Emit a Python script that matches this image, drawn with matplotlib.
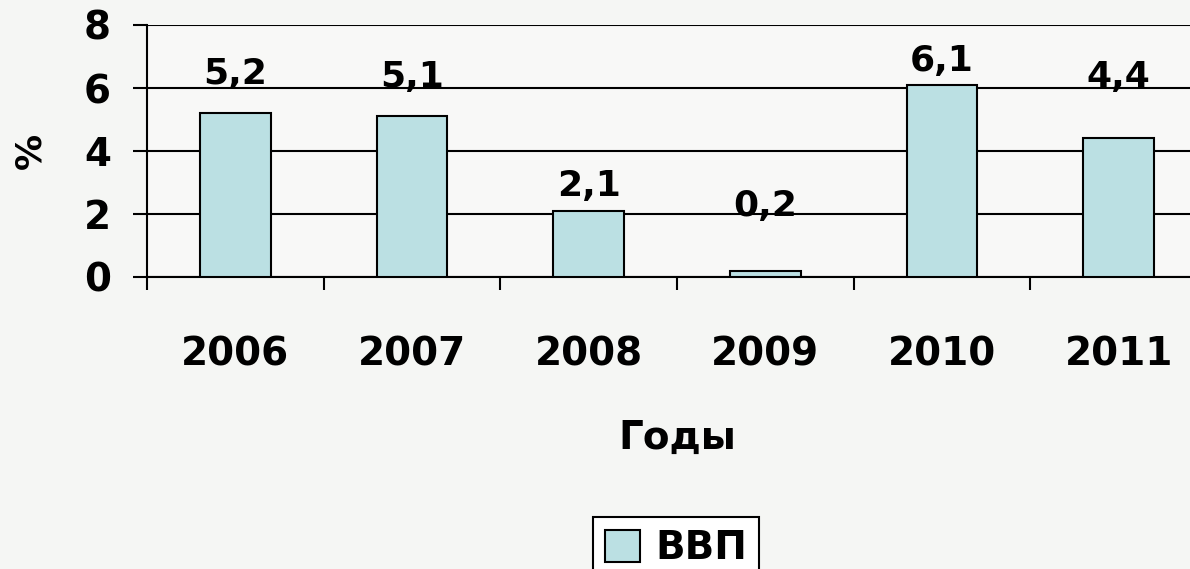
import matplotlib.pyplot as plt
import numpy as np

years = ['2006', '2007', '2008', '2009', '2010', '2011']
vvp = [5.2, 5.1, 2.1, 0.2, 6.1, 4.4]
value_labels = ['5,2', '5,1', '2,1', '0,2', '6,1', '4,4']
# label offsets above the bar top, in points (the original has them uneven)
label_dy = [16, 16, 6, 34, 5, 32]

plt.rcParams['font.family'] = ['DejaVu Sans']
plt.rcParams['font.weight'] = 'bold'

bg = '#f5f6f4'
fig = plt.figure(figsize=(11.9, 5.69), dpi=100, facecolor=bg)
ax = fig.add_axes([147/1190, 1-277/569, 1060/1190, 252/569])
ax.set_facecolor('#f8f8f7')

x = np.arange(len(years))
bars = ax.bar(x, vvp, width=0.4, color='#bbe0e3', edgecolor='black', linewidth=1.5,
              label='ВВП', zorder=3)

for b, txt, dy in zip(bars, value_labels, label_dy):
    ax.annotate(txt, (b.get_x() + b.get_width()/2, b.get_height()),
                xytext=(0, dy), textcoords='offset points',
                ha='center', va='bottom', fontsize=26, fontweight='bold', zorder=4)

ax.set_xlim(-0.5, len(years) - 0.5)
ax.set_ylim(0, 8)
ax.set_yticks([0, 2, 4, 6, 8])
ax.yaxis.grid(True, color='black', linewidth=1.5, zorder=0)
ax.set_axisbelow(True)

# category ticks sit between the bars
ax.set_xticks(np.arange(len(years) + 1) - 0.5)
ax.set_xticklabels([])
ax.set_xticks(x, minor=True)
ax.set_xticklabels(years, minor=True, fontsize=28, fontweight='bold')
ax.tick_params(axis='x', which='major', length=9, width=1.5, direction='out')
ax.tick_params(axis='x', which='minor', length=0, pad=42)
ax.tick_params(axis='y', length=10, width=1.5, direction='out', pad=16, labelsize=28)

for s in ['top', 'right']:
    ax.spines[s].set_visible(False)
for s in ['left', 'bottom']:
    ax.spines[s].set_linewidth(1.5)

ax.set_ylabel('%', fontsize=26, fontweight='bold', va='center', ha='center')
ax.yaxis.set_label_coords(-0.11, 0.5)
ax.set_xlabel('Годы', fontsize=28, fontweight='bold', va='center')
ax.xaxis.set_label_coords(0.5, -0.64)

leg = fig.legend(handles=[bars], labels=['ВВП'], loc='upper center',
                 bbox_to_anchor=(676/1190, 1-498/569), fontsize=28, frameon=True,
                 fancybox=False, edgecolor='black', facecolor='white',
                 handlelength=0.9, handleheight=0.9, handletextpad=0.4,
                 borderpad=0.3, framealpha=1)
leg.get_frame().set_linewidth(1.5)
for t in leg.get_texts():
    t.set_fontweight('bold')

fig.savefig('out.png', dpi=100, facecolor=bg)
